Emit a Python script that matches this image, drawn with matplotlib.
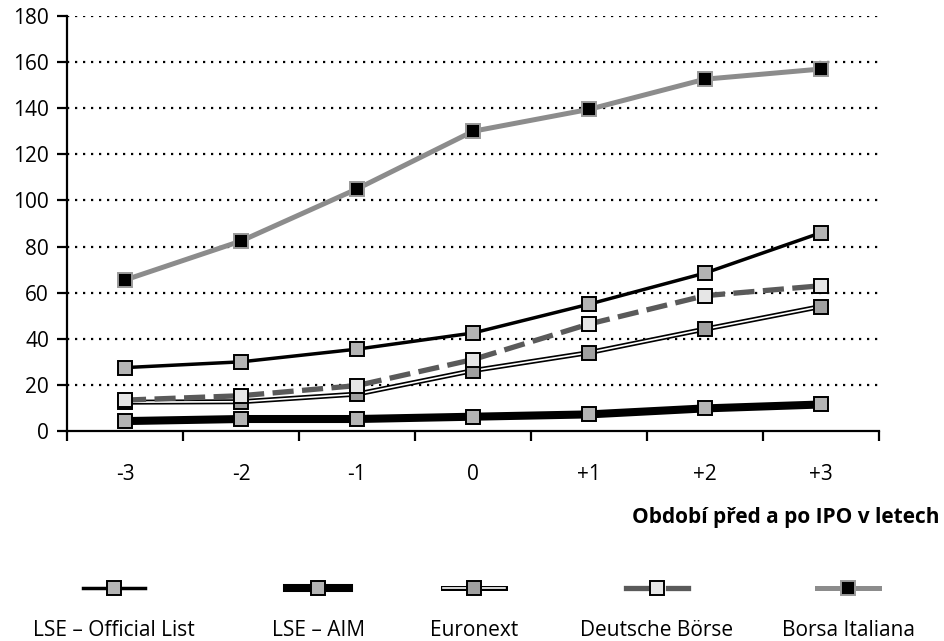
import matplotlib
matplotlib.use("Agg")
import matplotlib.pyplot as plt
from matplotlib.lines import Line2D

plt.rcParams['font.family'] = ['Open Sans', 'DejaVu Sans']

# data
periods = ['-3', '-2', '-1', '0', '+1', '+2', '+3']
lse_official = [27.5, 30, 35.5, 42.5, 55, 68.5, 86]
lse_aim = [4.3, 5.2, 5.2, 6.2, 7.2, 9.8, 11.5]
euronext = [12.5, 12.7, 16, 26.2, 34, 44.2, 54]
deutsche = [13.4, 15.3, 19.7, 31, 46.4, 58.7, 63]
borsa = [65.5, 82.4, 105, 130, 139.5, 152.6, 157]
labels = ['LSE – Official List', 'LSE – AIM', 'Euronext', 'Deutsche Börse', 'Borsa Italiana']

W, H = 944, 641
FS = 15
fig = plt.figure(figsize=(W / 100, H / 100), dpi=100)
ax = fig.add_axes([67 / W, 1 - 431 / H, 812 / W, 415 / H])

x = list(range(len(periods)))
sq = dict(marker='s', markersize=10, markeredgewidth=1.4)

# Borsa Italiana
ax.plot(x, borsa, color='#8c8c8c', lw=3.6, mfc='black', mec='#9a9a9a', zorder=3, **sq)
# LSE - Official List
ax.plot(x, lse_official, color='black', lw=2.5, mfc='#b4b4b4', mec='black', zorder=3, **sq)
# Euronext (double line)
ax.plot(x, euronext, color='black', lw=3.6, zorder=3)
ax.plot(x, euronext, color='white', lw=1.2, mfc='#a0a0a0', mec='black', zorder=3, **sq)
# Deutsche Borse
ax.plot(x, deutsche, color='#5a5a5a', lw=3.8, dashes=(4, 1.6), mfc='#e6e6e6', mec='black', zorder=3, **sq)
# LSE - AIM
ax.plot(x, lse_aim, color='black', lw=5.8, mfc='#b4b4b4', mec='black', zorder=3, **sq)

ax.set_xlim(-0.5, len(periods) - 0.5)
ax.set_ylim(0, 180)
ax.set_yticks(range(0, 181, 20))
for v in range(20, 181, 20):
    ax.axhline(v, color='black', lw=1.6, dashes=(1, 2.6), zorder=1)

ax.set_xticks([i - 0.5 for i in range(len(periods) + 1)])
ax.set_xticklabels([])
ax.set_xticks(x, minor=True)
ax.set_xticklabels(periods, minor=True)
ax.tick_params(axis='x', which='major', direction='out', length=7, width=1.6)
ax.tick_params(axis='x', which='minor', length=0, pad=24, labelsize=FS)
ax.tick_params(axis='y', direction='out', length=7, width=1.6, pad=6, labelsize=FS)

for s in ['top', 'right']:
    ax.spines[s].set_visible(False)
for s in ['left', 'bottom']:
    ax.spines[s].set_linewidth(1.6)
ax.spines['bottom'].set_zorder(4)

fig.text(940 / W, 1 - 517 / H, 'Období před a po IPO v letech', ha='right', va='center',
         fontsize=FS, fontweight='bold')

# legend: key above the label
leg_x = [114, 318, 474, 657, 848]
styles = [
    dict(color='black', lw=2.5, mfc='#b4b4b4', mec='black'),
    dict(color='black', lw=5.8, mfc='#b4b4b4', mec='black'),
    dict(color='white', lw=1.2, mfc='#a0a0a0', mec='black'),
    dict(color='#5a5a5a', lw=3.8, mfc='#e6e6e6', mec='black'),
    dict(color='#8c8c8c', lw=3.6, mfc='black', mec='#9a9a9a'),
]
ky = 1 - 588 / H
for i, (cx, lab, st) in enumerate(zip(leg_x, labels, styles)):
    if i == 2:
        fig.add_artist(Line2D([(cx - 31) / W, (cx + 31) / W], [ky, ky], color='black', lw=3.6,
                              transform=fig.transFigure))
    if i == 3:
        for a, b in [(cx - 31, cx - 11), (cx + 11, cx + 31)]:
            fig.add_artist(Line2D([a / W, b / W], [ky, ky], color=st['color'], lw=st['lw'],
                                  transform=fig.transFigure))
        fig.add_artist(Line2D([cx / W], [ky], lw=0, mfc=st['mfc'], mec=st['mec'],
                              transform=fig.transFigure, **sq))
    else:
        fig.add_artist(Line2D([(cx - 31) / W, cx / W, (cx + 31) / W], [ky] * 3, markevery=[1],
                              transform=fig.transFigure, **st, **sq))
    fig.text(cx / W, 1 - 630 / H, lab, ha='center', va='center', fontsize=FS)

fig.savefig('out.png', dpi=100)
